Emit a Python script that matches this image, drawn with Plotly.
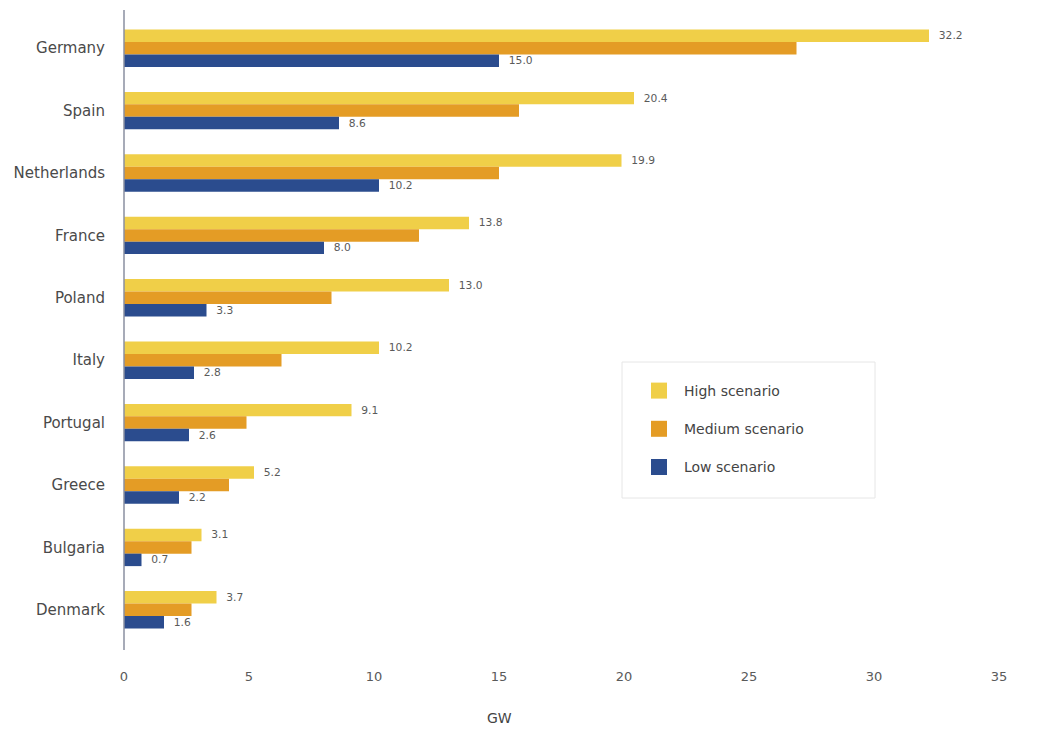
import plotly.graph_objects as go

countries = ["Germany", "Spain", "Netherlands", "France", "Poland",
             "Italy", "Portugal", "Greece", "Bulgaria", "Denmark"]
high = [32.2, 20.4, 19.9, 13.8, 13.0, 10.2, 9.1, 5.2, 3.1, 3.7]
medium = [26.9, 15.8, 15.0, 11.8, 8.3, 6.3, 4.9, 4.2, 2.7, 2.7]
low = [15.0, 8.6, 10.2, 8.0, 3.3, 2.8, 2.6, 2.2, 0.7, 1.6]
x_ticks = [0, 5, 10, 15, 20, 25, 30, 35]
series_names = ["High scenario", "Medium scenario", "Low scenario"]
series_colors = ["#F0CF48", "#E49C25", "#2B4C8E"]

FONT = "'DejaVu Sans', 'Open Sans', sans-serif"
LABEL_COLOR = "#5a5a5a"

# the page body adds an 8px offset; compensate so the chart lands as in the reference
OFF = 8
W, H = 1040 - OFF, 729 - OFF
ML, MR, MT, MB = 124 - OFF, 41, 17 - OFF, 88
PW, PH = W - ML - MR, H - MT - MB


def px_to_paper_x(px):
    return (px - OFF - ML) / PW


def px_to_paper_y(py):
    return (H - MB - (py - OFF)) / PH


fig = go.Figure()
for name, vals, color, labelled in zip(series_names, [high, medium, low],
                                       series_colors, [True, False, True]):
    fig.add_trace(go.Bar(
        y=countries, x=vals, orientation="h", name=name,
        marker=dict(color=color, line=dict(width=0)),
        text=vals if labelled else None,
        texttemplate="\u00a0\u00a0%{x:.1f}" if labelled else None,
        textposition="outside" if labelled else "none",
        textfont=dict(size=12, color=LABEL_COLOR, family=FONT),
        cliponaxis=False, showlegend=False,
    ))

# legend entries with larger square swatches
for i, (name, color) in enumerate(zip(series_names, series_colors)):
    fig.add_trace(go.Scatter(
        x=[None], y=[None], mode="markers", name=name,
        marker=dict(symbol="square", size=16, color=color),
        legendgroup=f"g{i}", showlegend=True, hoverinfo="skip",
    ))

fig.update_layout(
    width=W, height=H,
    margin=dict(l=ML, r=MR, t=MT, b=MB, autoexpand=False),
    paper_bgcolor="white", plot_bgcolor="white",
    barmode="group", bargap=0.4, bargroupgap=0,
    font=dict(family=FONT, color=LABEL_COLOR, size=13),
    showlegend=True,
    legend=dict(
        x=px_to_paper_x(634), y=px_to_paper_y(375), xanchor="left", yanchor="top",
        borderwidth=0, bgcolor="rgba(0,0,0,0)",
        font=dict(size=14, color="#444444", family=FONT),
        tracegroupgap=17, traceorder="grouped",
        itemwidth=40, itemsizing="trace",
    ),
    xaxis=dict(
        range=[0, 35], tickvals=x_ticks, showgrid=False, zeroline=False,
        showline=False, ticks="", tickfont=dict(size=13, color=LABEL_COLOR),
        ticklabelstandoff=26, automargin=False,
    ),
    yaxis=dict(
        autorange="reversed", showgrid=False, zeroline=False,
        showline=False, ticks="", automargin=False,
        ticklabelstandoff=18,
        tickfont=dict(size=15, color="#4a4a4a"),
    ),
    shapes=[
        dict(type="line", xref="paper", yref="paper",
             x0=0, x1=0, y0=px_to_paper_y(650), y1=px_to_paper_y(10),
             line=dict(color="#8a8fa0", width=1.5)),
        dict(type="rect", xref="paper", yref="paper",
             x0=px_to_paper_x(622), x1=px_to_paper_x(875),
             y0=px_to_paper_y(498), y1=px_to_paper_y(362),
             line=dict(color="#e6e6e6", width=1), fillcolor="rgba(255,255,255,0.9)",
             layer="below"),
    ],
    annotations=[dict(
        x=15, y=px_to_paper_y(718), xref="x", yref="paper", text="GW", showarrow=False,
        font=dict(size=14, color="#444444", family=FONT),
        xanchor="center", yanchor="middle",
    )],
)

fig.write_html("out.html")
